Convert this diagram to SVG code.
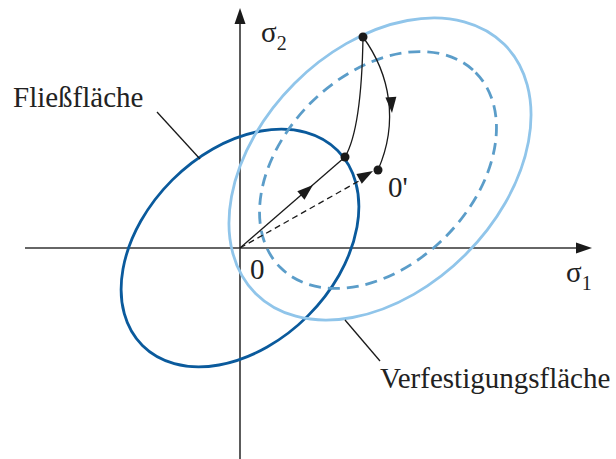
<svg xmlns="http://www.w3.org/2000/svg" width="616" height="459" viewBox="0 0 616 459">
<defs>
<style>
.axis{stroke:#333;stroke-width:1.6;fill:none}
.head{fill:#1a1a1a;stroke:none}
.thin{stroke:#1a1a1a;stroke-width:1.3;fill:none}
.lbl{font-family:"Liberation Serif","Times New Roman",serif;fill:#222;font-size:29px}
.sub{font-size:20px}
.yield{fill:none;stroke:#0a5a9c;stroke-width:2.8}
.hard{fill:none;stroke:#90c5ea;stroke-width:2.8}
.moved{fill:none;stroke:#5b9dc9;stroke-width:2.8;stroke-dasharray:12 7}
</style>
<path id="ah" d="M0,0 L-16,-5.5 L-16,5.5 Z"/>
</defs>
<rect width="616" height="459" fill="#fff"/>
<g id="axes">
<line class="axis" x1="240" y1="459" x2="240" y2="22"/>
<use href="#ah" class="head" transform="translate(240,8) rotate(-90)"/>
<line class="axis" x1="25" y1="248" x2="578" y2="248"/>
<use href="#ah" class="head" transform="translate(592,248)"/>
</g>
<g id="fliessflaeche">
<ellipse class="yield" cx="240" cy="248" rx="138" ry="96" transform="rotate(-45 240 248)"/>
</g>
<g id="verfestigt-verschoben">
<ellipse class="moved" cx="378" cy="170" rx="138" ry="95" transform="rotate(-45 378 170)"/>
</g>
<g id="verfestigungsflaeche">
<ellipse class="hard" cx="380" cy="169" rx="176" ry="121" transform="rotate(-45 380 169)"/>
</g>
<g id="connectors">
<line class="thin" x1="240" y1="248" x2="345" y2="157"/>
<use href="#ah" class="head" transform="translate(313,185) rotate(-40.9)"/>
<line class="thin" x1="240" y1="248" x2="366" y2="177" stroke-dasharray="6 4"/>
<use href="#ah" class="head" transform="translate(373,171) rotate(-29.5)"/>
<path class="thin" d="M345,157 C355,140 362,100 363,37"/>
<path class="thin" d="M363,37 C390,74 399,122 378,170"/>
<use href="#ah" class="head" transform="translate(392,113) rotate(86)"/>
<line class="thin" x1="157" y1="112" x2="200" y2="159"/>
<line class="thin" x1="345" y1="320" x2="380" y2="361"/>
</g>
<g id="points">
<circle cx="345" cy="157" r="4.5" fill="#1a1a1a"/>
<circle cx="363" cy="37" r="4.5" fill="#1a1a1a"/>
<circle cx="378" cy="170" r="4.5" fill="#1a1a1a"/>
</g>
<g id="labels">
<text class="lbl" x="261" y="42">σ<tspan class="sub" dy="8">2</tspan></text>
<text class="lbl" x="566" y="282">σ<tspan class="sub" dy="8">1</tspan></text>
<text class="lbl" x="250" y="279">0</text>
<text class="lbl" x="388" y="197">0'</text>
<text class="lbl" x="13" y="107">Fließfläche</text>
<text class="lbl" x="380" y="388">Verfestigungsfläche</text>
</g>
</svg>
